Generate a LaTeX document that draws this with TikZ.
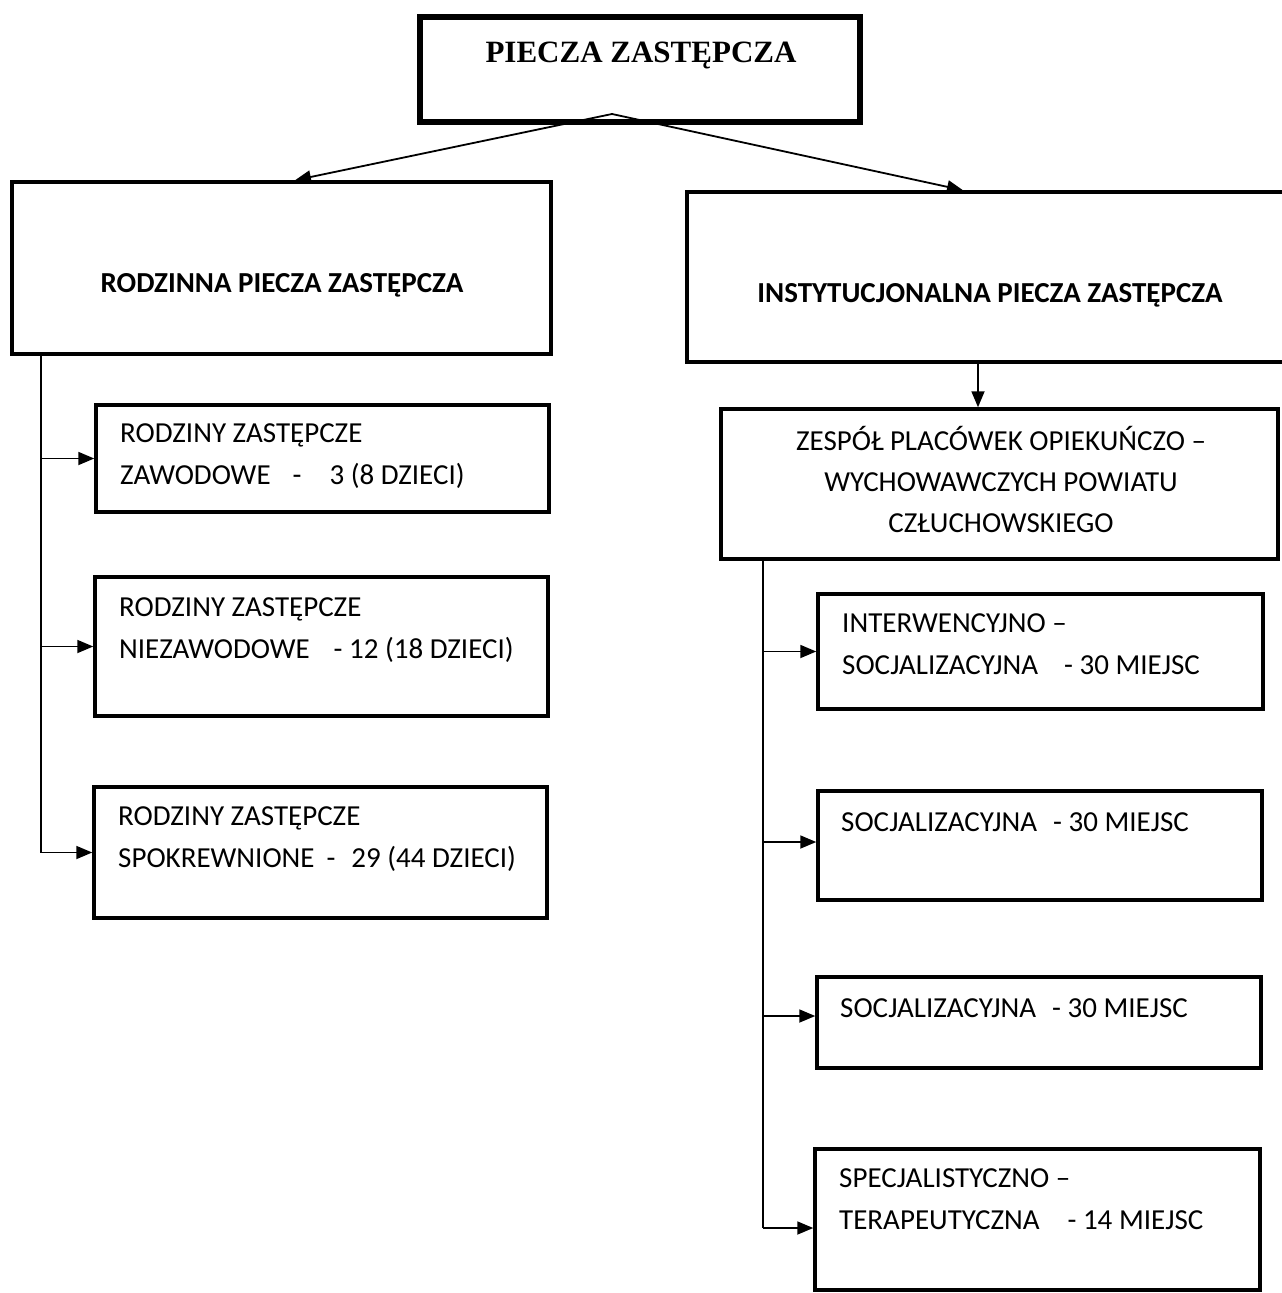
\documentclass[tikz,border=0pt]{standalone}
\usepackage{fontspec}
\setmainfont{Carlito}
\newfontfamily\titlefont{Liberation Serif}
\usetikzlibrary{arrows.meta}
\begin{document}
\begin{tikzpicture}[x=1pt,y=-1pt,
  box/.style={draw, line width=3.5pt, rectangle, inner sep=0pt},
  txt/.style={anchor=base west, inner sep=0pt, align=left, font=\fontsize{29}{42}\selectfont},
  ctxt/.style={anchor=base, inner sep=0pt, align=center, font=\fontsize{29}{41}\selectfont},
  btxt/.style={anchor=base, inner sep=0pt, font=\bfseries\fontsize{29}{34}\selectfont},
  conn/.style={line width=1.8pt, -{Triangle[length=16pt,width=13pt]}},
  trunk/.style={line width=1.8pt}]
\useasboundingbox (0,0) rectangle (1282,1293);
\fill[white] (0,0) rectangle (1282,1293);

% boxes
\node[box, line width=6pt, minimum width=440pt, minimum height=105pt] (top) at (640,69.5) {};
\node[box, minimum width=539pt, minimum height=172pt] (lbig) at (281.5,268) {};
\node[box, minimum width=603pt, minimum height=170pt] (rbig) at (988.5,277) {};
\node[box, minimum width=453pt, minimum height=107pt] (L1) at (322.5,458.5) {};
\node[box, minimum width=453pt, minimum height=139pt] (L2) at (321.5,646.5) {};
\node[box, minimum width=453pt, minimum height=131pt] (L3) at (320.5,852.5) {};
\node[box, minimum width=557pt, minimum height=150pt] (Z) at (999.5,484) {};
\node[box, minimum width=445pt, minimum height=115pt] (C1) at (1040.5,651.5) {};
\node[box, minimum width=444pt, minimum height=109pt] (C2) at (1040,845.5) {};
\node[box, minimum width=444pt, minimum height=91pt] (C3) at (1039,1022.5) {};
\node[box, minimum width=445pt, minimum height=141pt] (C4) at (1037.5,1219.5) {};

% texts (base anchor = baseline of the last line)
\node[anchor=base, inner sep=0pt, font=\titlefont\bfseries\fontsize{31}{34}\selectfont] (tt) at (641,62) {PIECZA ZASTĘPCZA};
\node[btxt] (lbt) at (282,292) {RODZINNA PIECZA ZASTĘPCZA};
\node[btxt] (rbt) at (990,302) {INSTYTUCJONALNA PIECZA ZASTĘPCZA};
\node[txt] (L1t) at (120,484) {RODZINY ZASTĘPCZE\\ZAWODOWE\hspace{22pt}-\hspace{28pt}3 (8 DZIECI)};
\node[txt] (L2t) at (119,658) {RODZINY ZASTĘPCZE\\NIEZAWODOWE\hspace{24pt}- 12 (18 DZIECI)};
\node[txt] (L3t) at (118,867) {RODZINY ZASTĘPCZE\\SPOKREWNIONE\hspace{12pt}-\hspace{16pt}29 (44 DZIECI)};
\node[ctxt] (Zt) at (1001,532) {ZESPÓŁ PLACÓWEK OPIEKUŃCZO –\\WYCHOWAWCZYCH POWIATU\\CZŁUCHOWSKIEGO};
\node[txt] (C1t) at (842,674) {INTERWENCYJNO –\\SOCJALIZACYJNA\hspace{26pt}- 30 MIEJSC};
\node[txt] (C2t) at (841,831) {SOCJALIZACYJNA\hspace{16pt}- 30 MIEJSC};
\node[txt] (C3t) at (840,1017) {SOCJALIZACYJNA\hspace{16pt}- 30 MIEJSC};
\node[txt] (C4t) at (839,1229) {SPECJALISTYCZNO –\\TERAPEUTYCZNA\hspace{28pt}- 14 MIEJSC};

% connectors from top
\coordinate (apex) at (612,114);
\draw[conn] (apex) -- ([xshift=13.5pt]lbig.north);
\draw[conn] (apex) -- ([xshift=-25.5pt]rbig.north);
\draw[conn] ([xshift=-10.5pt]rbig.south) -- ([xshift=-21.5pt]Z.north);

% left trunk
\coordinate (lbot) at (41,852.5);
\draw[trunk] (lbig.south -| lbot) -- (lbot);
\draw[conn] (L1.west -| lbot) -- (L1.west);
\draw[conn] (L2.west -| lbot) -- (L2.west);
\draw[conn] (lbot) -- (L3.west);

% right trunk
\coordinate (rbot) at (763,1228);
\draw[trunk] (Z.south -| rbot) -- (rbot);
\draw[conn] (C1.west -| rbot) -- (C1.west);
\draw[conn] ([yshift=3.5pt]C2.west -| rbot) -- ([yshift=3.5pt]C2.west);
\draw[conn] ([yshift=6.5pt]C3.west -| rbot) -- ([yshift=6.5pt]C3.west);
\draw[conn] (rbot) -- ([yshift=-8.5pt]C4.west);
\end{tikzpicture}
\end{document}
